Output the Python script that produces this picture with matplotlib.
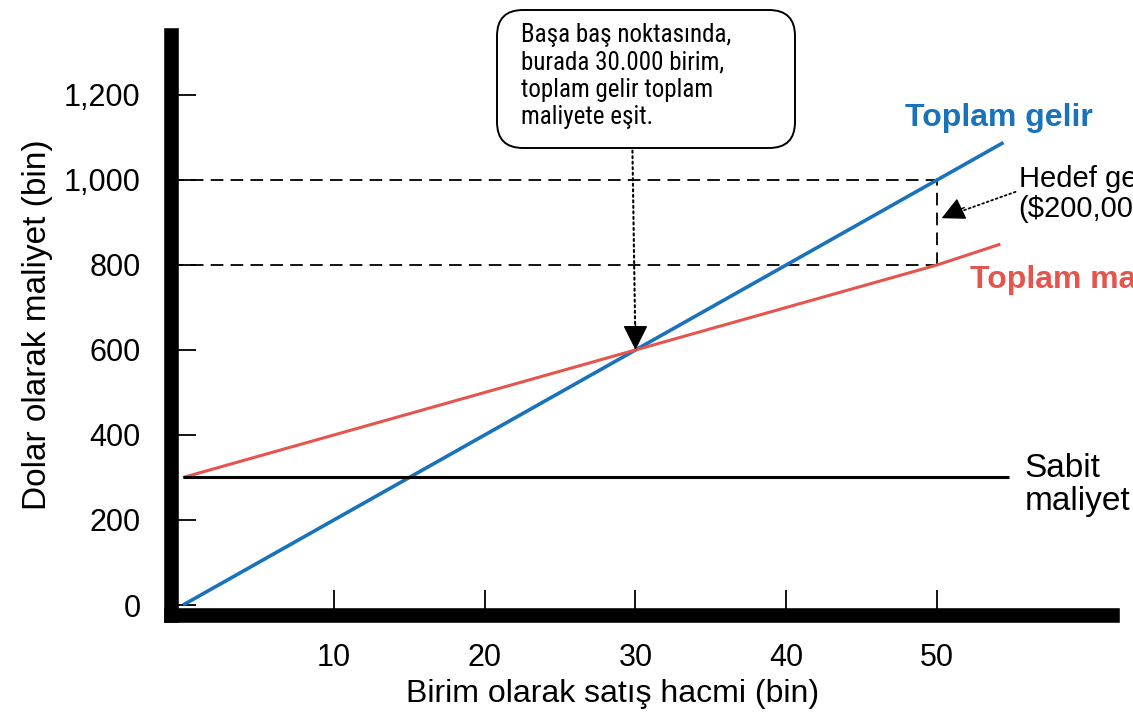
import matplotlib
matplotlib.use("Agg")
import matplotlib.pyplot as plt
from matplotlib.patches import FancyBboxPatch
from matplotlib.transforms import IdentityTransform
from matplotlib.ticker import FuncFormatter

# values (bin units, bin dollars)
revenue_units = [0, 30, 50, 54.4]
revenue = [0, 600, 1000, 1088]
cost_units = [0, 30, 50, 54.2]
total_cost = [300, 600, 800, 849]
fixed_units = [0, 54.8]
fixed_cost = [300, 300]

breakeven_units = 30
breakeven_value = 600
target_units = 50
target_revenue = 1000
target_cost = 800

x_ticks = [10, 20, 30, 40, 50]
y_ticks = [0, 200, 400, 600, 800, 1000, 1200]

BLUE = "#1a72bb"
RED = "#e5544d"
plt.rcParams['font.family'] = ['Liberation Sans', 'DejaVu Sans']

fig = plt.figure(figsize=(11.33, 7.2), dpi=100)
W, H = 1133, 720
left, right, top, bottom = 171, 1112, 35, 615
ax = fig.add_axes([left / W, 1 - bottom / H, (right - left) / W, (bottom - top) / H])

ax.plot(revenue_units, revenue, color=BLUE, lw=2.6, solid_capstyle='butt', zorder=3)
ax.plot(cost_units, total_cost, color=RED, lw=2.2, solid_capstyle='butt', zorder=3)
ax.plot(fixed_units, fixed_cost, color="black", lw=2.2, solid_capstyle='butt', zorder=3)

ax.set_xlim(-0.8, 61.6)
ax.set_ylim(-23.5, 1341)
x0 = ax.get_xlim()[0]

ax.hlines([target_revenue, target_cost], x0, target_units, colors="black",
          linestyles=(0, (7, 4)), lw=1.3, zorder=2)
ax.vlines(target_units, target_cost, target_revenue, colors="black",
          linestyles=(0, (7, 4)), lw=1.3, zorder=2)

for side in ["top", "right"]:
    ax.spines[side].set_visible(False)
for side in ["left", "bottom"]:
    ax.spines[side].set_linewidth(10.5)
    ax.spines[side].set_capstyle('projecting')

ax.set_xticks(x_ticks)
ax.set_yticks(y_ticks)
ax.yaxis.set_major_formatter(FuncFormatter(lambda v, p: f"{int(v):,}"))
ax.tick_params(axis='both', direction='in', length=18, width=1.3, labelsize=22)
ax.tick_params(axis='y', pad=22)
ax.tick_params(axis='x', pad=20)

ax.set_ylabel("Dolar olarak maliyet (bin)", fontsize=24)
ax.yaxis.set_label_coords(-0.125, 0.5)
ax.set_xlabel("Birim olarak satış hacmi (bin)", fontsize=23)
ax.xaxis.set_label_coords(0.469, -0.11)

# line labels
ax.text(47.9, 1146, "Toplam gelir", color=BLUE, fontsize=23, fontweight='bold',
        ha='left', va='center', clip_on=False)
ax.text(52.2, 765, "Toplam maliyet", color=RED, fontsize=23, fontweight='bold',
        ha='left', va='center', clip_on=False)
ax.text(55.8, 282, "Sabit\nmaliyet", color="black", fontsize=24,
        ha='left', va='center', linespacing=1.1, clip_on=False)
ax.text(55.4, 967, "Hedef gelir\n($200,000)", color="black", fontsize=21,
        ha='left', va='center', linespacing=1.05, clip_on=False)

# target profit arrow
ax.annotate("", xy=(target_units + 0.3, 910), xytext=(55.2, 972),
            arrowprops=dict(arrowstyle='-', linestyle=':', lw=1.3, color='black',
                            shrinkA=0, shrinkB=8))
ax.annotate("", xy=(target_units + 0.3, 910), xytext=(target_units + 1.8, 935),
            arrowprops=dict(arrowstyle='-|>,head_length=0.6,head_width=0.3',
                            mutation_scale=24, lw=1, color='black',
                            shrinkA=0, shrinkB=0))

# callout box
box = FancyBboxPatch((497, H - 148), 298, 138,
                     boxstyle="round,pad=0,rounding_size=26",
                     transform=IdentityTransform(), facecolor="white",
                     edgecolor="black", lw=1.4)
fig.add_artist(box)
fig.text(521 / W, 1 - 23 / H,
         "Başa baş noktasında,\nburada 30.000 birim,\ntoplam gelir toplam\nmaliyete eşit.",
         family=['Roboto Condensed', 'Liberation Sans Narrow', 'Liberation Sans', 'DejaVu Sans'],
         fontsize=18, ha='left', va='top', linespacing=1.18)

# breakeven arrow
ax.annotate("", xy=(breakeven_units, breakeven_value), xytext=(29.8, 1069),
            arrowprops=dict(arrowstyle='-', linestyle=':', lw=1.5, color='black',
                            shrinkA=0, shrinkB=10))
ax.annotate("", xy=(breakeven_units, breakeven_value),
            xytext=(breakeven_units, breakeven_value + 60),
            arrowprops=dict(arrowstyle='-|>,head_length=0.6,head_width=0.3',
                            mutation_scale=26, lw=1, color='black',
                            shrinkA=0, shrinkB=0))

fig.savefig("out.png", dpi=100)
